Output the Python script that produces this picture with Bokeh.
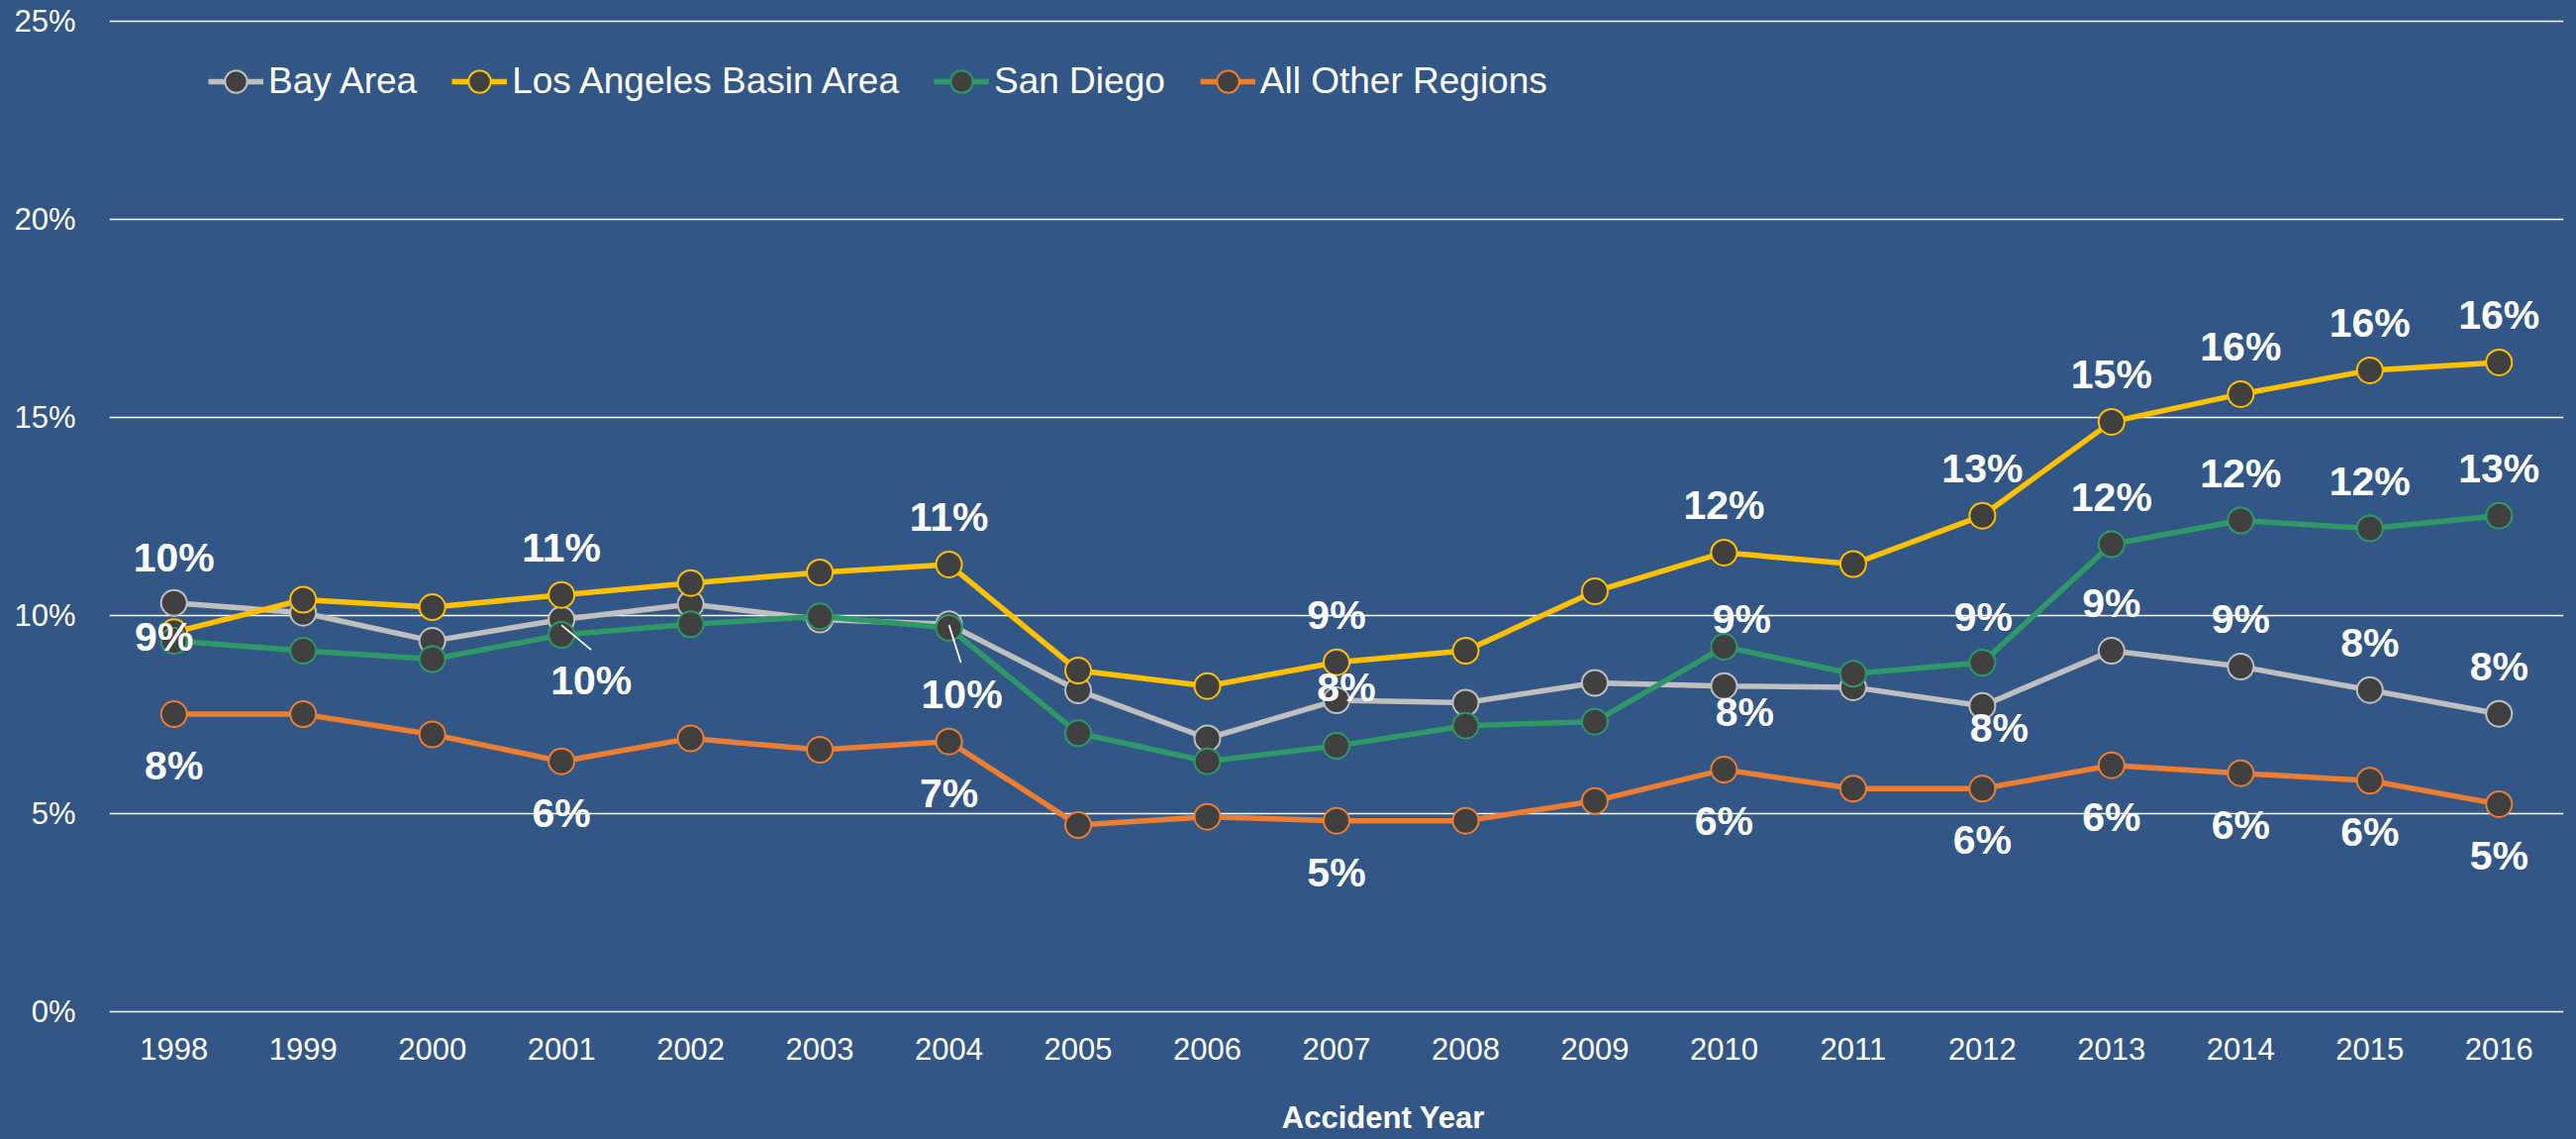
from bokeh.plotting import figure
from bokeh.models import (FixedTicker, PrintfTickFormatter, ColumnDataSource,
                          Legend, LegendItem)
from bokeh.embed import file_html
from bokeh.resources import INLINE
from bokeh.core.properties import value

# ---------------- data ----------------
years = list(range(1998, 2017))
bay_area = [10.32, 10.07, 9.36, 9.90, 10.29, 9.90, 9.78, 8.11, 6.90, 7.86,
            7.80, 8.30, 8.22, 8.19, 7.72, 9.11, 8.71, 8.12, 7.52]
la_basin = [9.58, 10.40, 10.21, 10.52, 10.82, 11.09, 11.29, 8.61, 8.22, 8.82,
            9.11, 10.61, 11.59, 11.30, 12.52, 14.89, 15.59, 16.19, 16.39]
san_diego = [9.36, 9.11, 8.90, 9.51, 9.78, 9.98, 9.69, 7.03, 6.32, 6.71,
             7.22, 7.32, 9.21, 8.53, 8.81, 11.80, 12.40, 12.20, 12.52]
other_regions = [7.51, 7.51, 7.00, 6.32, 6.90, 6.61, 6.82, 4.71, 4.92, 4.82,
                 4.82, 5.32, 6.11, 5.63, 5.63, 6.22, 6.02, 5.83, 5.24]

series_names = ["Bay Area", "Los Angeles Basin Area", "San Diego", "All Other Regions"]
y_ticks = [0, 5, 10, 15, 20, 25]
x_title = "Accident Year"

# years that carry a data label, per series
bay_label_years = [1998, 2007, 2010, 2012, 2013, 2014, 2015, 2016]
la_label_years = [2001, 2004, 2007, 2010, 2012, 2013, 2014, 2015, 2016]
sd_label_years = [1998, 2001, 2004, 2010, 2012, 2013, 2014, 2015, 2016]
other_label_years = [1998, 2001, 2004, 2007, 2010, 2012, 2013, 2014, 2015, 2016]

# ---------------- style ----------------
BG = "#325786"
COLORS = ["#BFBFBF", "#FFC000", "#2E9966", "#ED7D31"]
MARKER_FILL = "#404040"
FONT = "Liberation Sans"
W, H = 2602, 1150
BORDER_L, BORDER_R, BORDER_T, BORDER_B = 110, 13, 19, 127
FRAME_W, FRAME_H = W - BORDER_L - BORDER_R, H - BORDER_T - BORDER_B
X_RANGE = (1997.5, 2016.5)
Y_RANGE = (-0.05, 25.05)
TITLE_SHIFT = 11  # no-break spaces that nudge the axis title to the right

# label offsets in screen px (dx, dy; dy positive = down)
DEFAULT_OFFSET = [(0, -48), (0, -48), (0, -48), (0, 52)]
CUSTOM_OFFSETS = [
    {1998: (0, -46), 2007: (10, -13), 2010: (21, 26), 2012: (17, 22)},
    {},
    {1998: (-10, -4), 2001: (30, 46), 2004: (13, 67), 2010: (18, -28), 2012: (1, -46)},
    {},
]
# leader lines: year -> (start dx, start dy, end dx, end dy) in px
LEADERS = [{}, {}, {2001: (0, -10, 30, 15), 2004: (0, -3, 12, 35)}, {}]

p = figure(width=W, height=H, output_backend="svg", toolbar_location=None,
           x_range=X_RANGE, y_range=Y_RANGE,
           min_border_left=BORDER_L, min_border_right=BORDER_R,
           min_border_top=BORDER_T, min_border_bottom=BORDER_B)
p.background_fill_alpha = 0
p.border_fill_color = BG
p.outline_line_color = None

# axes
p.xaxis.ticker = FixedTicker(ticks=years)
p.yaxis.ticker = FixedTicker(ticks=y_ticks)
p.yaxis.formatter = PrintfTickFormatter(format="%d%%")
for ax in (p.xaxis[0], p.yaxis[0]):
    ax.axis_line_color = None
    ax.major_tick_line_color = None
    ax.minor_tick_line_color = None
    ax.major_label_text_color = "white"
    ax.major_label_text_font = FONT
    ax.major_label_text_font_size = "31px"
p.yaxis.major_label_standoff = 28
p.xaxis.major_label_standoff = 18
p.xaxis.axis_label = "\u00a0" * TITLE_SHIFT + x_title
p.xaxis.axis_label_text_font = FONT
p.xaxis.axis_label_text_font_style = "bold"
p.xaxis.axis_label_text_font_size = "31px"
p.xaxis.axis_label_text_color = "white"
p.xaxis.axis_label_standoff = 38

p.xgrid.grid_line_color = None
p.ygrid.grid_line_color = "white"
p.ygrid.grid_line_width = 1.6

all_series = [bay_area, la_basin, san_diego, other_regions]
label_years = [bay_label_years, la_label_years, sd_label_years, other_label_years]

items = []
for name, vals, col in zip(series_names, all_series, COLORS):
    src = ColumnDataSource(dict(x=years, y=vals))
    lr = p.line("x", "y", source=src, line_color=col, line_width=5.5)
    sr = p.scatter("x", "y", source=src, size=26, fill_color=MARKER_FILL,
                   line_color=col, line_width=2)
    items.append(LegendItem(label=name, renderers=[lr, sr]))

# data labels
px_x = (X_RANGE[1] - X_RANGE[0]) / FRAME_W
px_y = (Y_RANGE[1] - Y_RANGE[0]) / FRAME_H
lx, ly, lt, ldx, ldy = [], [], [], [], []
sx0, sy0, sx1, sy1 = [], [], [], []
for i, (vals, lyears) in enumerate(zip(all_series, label_years)):
    for yr in lyears:
        v = vals[years.index(yr)]
        dx, dy = CUSTOM_OFFSETS[i].get(yr, DEFAULT_OFFSET[i])
        lx.append(yr)
        ly.append(v)
        lt.append(f"{int(v + 0.5)}%")
        ldx.append(dx)
        ldy.append(dy)
        if yr in LEADERS[i]:
            a, b, c, d = LEADERS[i][yr]
            sx0.append(yr + a * px_x)
            sy0.append(v - b * px_y)
            sx1.append(yr + c * px_x)
            sy1.append(v - d * px_y)

p.segment(x0=sx0, y0=sy0, x1=sx1, y1=sy1, line_color="white", line_width=1.8)
lsrc = ColumnDataSource(dict(x=lx, y=ly, t=lt, dx=ldx, dy=ldy))
p.text("x", "y", text="t", source=lsrc, x_offset="dx", y_offset="dy",
       text_align="center", text_baseline="middle", text_color="white",
       text_font=value(FONT), text_font_style="bold", text_font_size="41px")

legend = Legend(items=items, orientation="horizontal", location=(100, 912))
legend.background_fill_alpha = 0
legend.border_line_alpha = 0
legend.label_text_color = "white"
legend.label_text_font = FONT
legend.label_text_font_size = "37px"
legend.glyph_width = 56
legend.glyph_height = 58
legend.label_standoff = 5
legend.spacing = 35
legend.padding = 0
legend.margin = 0
p.add_layout(legend)

html = file_html(p, INLINE)
html = html.replace(
    "</head>",
    "<style>html,body{margin:0;padding:0;overflow:hidden;background:%s;}</style></head>" % BG,
    1)
open("out.html", "w").write(html)
